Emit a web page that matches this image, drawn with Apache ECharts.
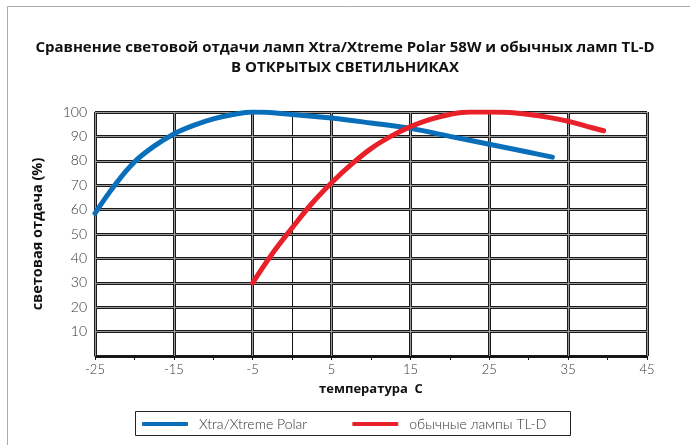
<!DOCTYPE html>
<html><head><meta charset="utf-8">
<script src="https://cdn.jsdelivr.net/npm/echarts@6/dist/echarts.min.js"></script>
<style>html,body{margin:0;padding:0;background:#fff}#c{width:690px;height:445px}</style>
</head><body><div id="c"></div>
<script>
const titleLine1 = 'Сравнение световой отдачи ламп Xtra/Xtreme Polar 58W и обычных ламп TL-D';
const titleLine2 = 'В ОТКРЫТЫХ СВЕТИЛЬНИКАХ';
const xAxisName = 'температура  С';
const yAxisName = 'световая отдача (%)';
const seriesNames = ['Xtra/Xtreme Polar', 'обычные лампы TL-D'];
const xtraTemps  = [-25, -22.5, -20, -17.5, -15, -12.5, -10, -7.5, -5, 0, 5, 10, 15, 20, 25, 30, 33];
const xtraValues = [58.5, 70, 79.5, 86, 91, 94.5, 97.2, 99, 100, 99, 97.5, 95.5, 93.3, 90, 86.8, 83.5, 81.5];
const tldTemps  = [-5, -2.5, 0, 2.5, 5, 7.5, 10, 12.5, 15, 17.5, 20, 22.5, 25, 27.5, 30, 32.5, 35, 37.5, 39.5];
const tldValues = [30, 42, 52.5, 62.5, 71, 78.5, 85, 90, 94, 97, 99, 100, 100, 99.8, 99, 97.8, 96.2, 94, 92.3];
const xMin = -25, xMax = 45, xStep = 5, xGridStep = 10;
const yMin = 0, yMax = 100, yStep = 10;

const boldFont = '"Open Sans", Lato, sans-serif';
const lightFont = 'Lato, "Open Sans", sans-serif';
const pair = (xs, ys) => xs.map((x, i) => [x, ys[i]]);
const xLabelFmt = v => ((v - xMin) % xGridStep === 0 ? String(v) : '');
const yLabelFmt = v => (v === 0 ? '' : String(v));

const chart = echarts.init(document.getElementById('c'), null, {renderer: 'canvas'});
const gridPos = {left: 95, right: 43, top: 112, bottom: 89};
const dark = '#1a1a1a', mid = '#9a9a9a';

const mainX = {
  type: 'value', gridIndex: 0, min: xMin, max: xMax, interval: xStep, z: 3,
  name: xAxisName, nameLocation: 'middle', nameGap: 27,
  nameTextStyle: {fontFamily: boldFont, fontWeight: 'bold', fontSize: 13, color: '#111'},
  axisLine: {show: true, lineStyle: {color: '#111', width: 1}},
  axisTick: {show: true, length: 4, lineStyle: {color: '#111'}},
  axisLabel: {formatter: xLabelFmt, fontFamily: lightFont, fontWeight: 300, fontSize: 13, color: '#333', margin: 7},
  splitLine: {show: false}
};
const mainY = {
  type: 'value', gridIndex: 0, min: yMin, max: yMax, interval: yStep, z: 0,
  name: yAxisName, nameLocation: 'middle', nameGap: 50,
  nameTextStyle: {fontFamily: boldFont, fontWeight: 'bold', fontSize: 14.5, color: '#111'},
  axisLine: {show: true, lineStyle: {color: '#111', width: 1}},
  axisTick: {show: true, length: 4, lineStyle: {color: '#111'}},
  axisLabel: {formatter: yLabelFmt, fontFamily: lightFont, fontWeight: 300, fontSize: 14, color: '#333', margin: 8},
  splitLine: {show: true, lineStyle: {color: dark, width: 3}}
};
function gridX(gi, color, width, z) {
  return {type: 'value', gridIndex: gi, min: 0, max: xMax - xMin, interval: xGridStep, z: z,
    axisLine: {show: false}, axisTick: {show: false}, axisLabel: {show: false},
    splitLine: {show: true, lineStyle: {color: color, width: width}}};
}
function gridY(gi, color, width, z) {
  return {type: 'value', gridIndex: gi, min: yMin, max: yMax, interval: yStep, z: z,
    axisLine: {show: false}, axisTick: {show: false}, axisLabel: {show: false},
    splitLine: {show: color !== null, lineStyle: {color: color || '#000', width: width}}};
}

chart.setOption({
  animation: false,
  backgroundColor: '#fff',
  title: {
    text: titleLine1 + '\n' + titleLine2, left: 'center', top: 33,
    textStyle: {fontFamily: boldFont, fontWeight: 'bold', fontSize: 15, color: '#111', lineHeight: 20}
  },
  graphic: [{
    type: 'polyline', shape: {points: [[7.5, 445], [7.5, 6.5], [690, 6.5]]},
    style: {stroke: '#aaa', fill: null, lineWidth: 1}
  }, {
    type: 'rect', shape: {x: 135.5, y: 411.5, width: 435, height: 24},
    style: {stroke: '#222', fill: null, lineWidth: 1}
  }],
  legend: {
    left: 135, top: 411, orient: 'horizontal',
    padding: [6, 0, 6, 7], itemGap: 45,
    itemWidth: 46, itemHeight: 4, icon: 'roundRect',
    textStyle: {fontFamily: lightFont, fontWeight: 300, fontSize: 14, color: '#333', padding: [0, 0, 0, 6]},
    data: seriesNames
  },
  grid: [Object.assign({}, gridPos), Object.assign({}, gridPos), Object.assign({}, gridPos)],
  xAxis: [mainX, gridX(1, dark, 3, 0), gridX(2, mid, 1, 1)],
  yAxis: [mainY, gridY(1, null, 1, 0), gridY(2, mid, 1, 1)],
  series: [
    {name: seriesNames[0], type: 'line', xAxisIndex: 0, yAxisIndex: 0, smooth: 0.4, showSymbol: false, symbol: 'none',
     z: 10, lineStyle: {color: '#0a6fba', width: 5, cap: 'round'}, itemStyle: {color: '#0a6fba'},
     data: pair(xtraTemps, xtraValues)},
    {name: seriesNames[1], type: 'line', xAxisIndex: 0, yAxisIndex: 0, smooth: 0.4, showSymbol: false, symbol: 'none',
     z: 10, lineStyle: {color: '#e8202a', width: 5, cap: 'round'}, itemStyle: {color: '#e8202a'},
     data: pair(tldTemps, tldValues)}
  ]
});
</script></body></html>
